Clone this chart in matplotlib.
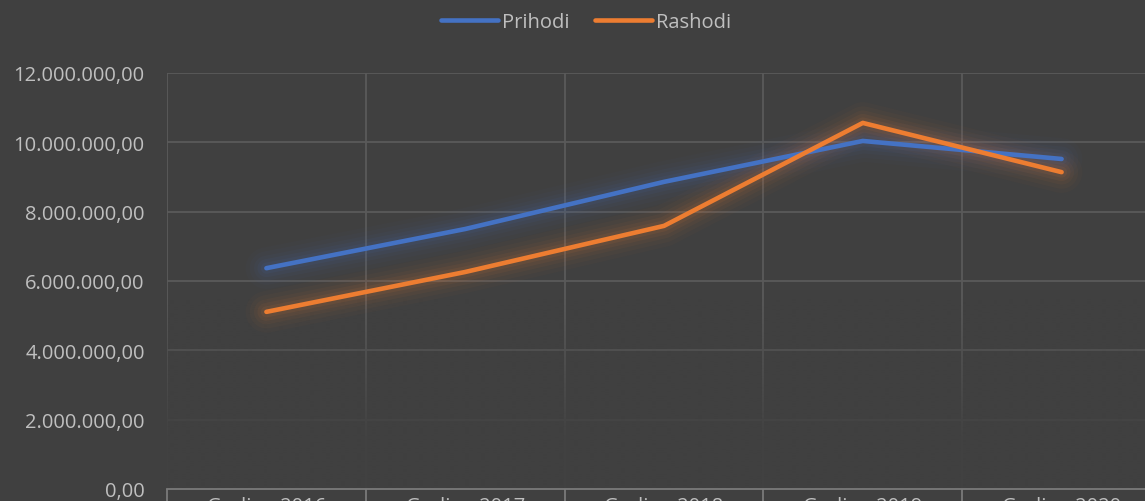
import matplotlib.pyplot as plt
import numpy as np
from matplotlib.ticker import FuncFormatter, FixedLocator

plt.rcParams['font.family'] = ['Open Sans', 'DejaVu Sans']

godine = ['Godina 2016', 'Godina 2017', 'Godina 2018', 'Godina 2019', 'Godina 2020']
prihodi = [6370000, 7500000, 8860000, 10040000, 9520000]
rashodi = [5110000, 6260000, 7590000, 10560000, 9140000]

bg = '#404040'
txt = '#bfbfbf'
grid_c = '#5a5a5a'
plava = '#4472c4'
narandz = '#ed7d31'

fig = plt.figure(figsize=(11.45, 5.02), dpi=100, facecolor=bg)
# axes runs past right edge on purpose (reference is cropped)
ax = fig.add_axes([167/1145, 12/502, 994/1145, 416/502], facecolor=bg)

x = np.arange(len(godine))

def glow(y, c):
    for w, a in [(30, 0.025), (24, 0.035), (18, 0.045), (13, 0.06), (8, 0.08)]:
        ax.plot(x, y, color=c, lw=w, alpha=a, solid_capstyle='round',
                solid_joinstyle='round', zorder=3)

glow(prihodi, plava)
glow(rashodi, narandz)
ax.plot(x, prihodi, color=plava, lw=3.3, solid_capstyle='round',
        solid_joinstyle='round', zorder=4, label='Prihodi')
ax.plot(x, rashodi, color=narandz, lw=3.3, solid_capstyle='round',
        solid_joinstyle='round', zorder=4, label='Rashodi')

# fade grid towards the bottom
n = 200
grad = np.zeros((n, 1, 4))
grad[:, 0, :3] = np.array([0x40, 0x40, 0x40]) / 255
t = np.linspace(0, 6e6, n)
grad[:, 0, 3] = np.clip((5.5e6 - t) / 4e6, 0, 1) * 0.92
ax.imshow(grad, extent=(-0.5, 4.5, 0, 6e6), origin='lower', aspect='auto',
          zorder=1, interpolation='bilinear')

ax.set_xlim(-0.5, 4.5)
ax.set_ylim(0, 12e6)
ax.set_yticks(np.arange(0, 12e6 + 1, 2e6))

def fmt(v, pos):
    s = f'{v:,.2f}'
    return s.replace(',', 'X').replace('.', ',').replace('X', '.')

ax.yaxis.set_major_formatter(FuncFormatter(fmt))
ax.set_xticks(x)
ax.set_xticklabels(godine)
ax.xaxis.set_minor_locator(FixedLocator(np.arange(-0.5, 5, 1)))

ax.set_axisbelow(True)
ax.grid(axis='y', color=grid_c, lw=1.3)
ax.grid(axis='x', which='minor', color=grid_c, lw=1.3)
ax.grid(axis='x', which='major', visible=False)

ax.tick_params(axis='y', length=0, pad=16, labelsize=14.5, labelcolor=txt)
ax.tick_params(axis='x', which='major', length=0, pad=5, labelsize=14.5, labelcolor=txt)
ax.tick_params(axis='x', which='minor', length=20, width=1.3, color='#7a7a7a', direction='out')

for s in ['top', 'right', 'left']:
    ax.spines[s].set_visible(False)
ax.spines['bottom'].set_color('#7a7a7a')
ax.spines['bottom'].set_linewidth(1.3)

fig.legend(loc='center', bbox_to_anchor=(586/1145, 1 - 23/502), ncol=2,
           frameon=False, fontsize=14.5, labelcolor=txt, handlelength=2.8,
           handletextpad=0.2, columnspacing=1.3)

fig.savefig('out.png', dpi=100, facecolor=bg)
